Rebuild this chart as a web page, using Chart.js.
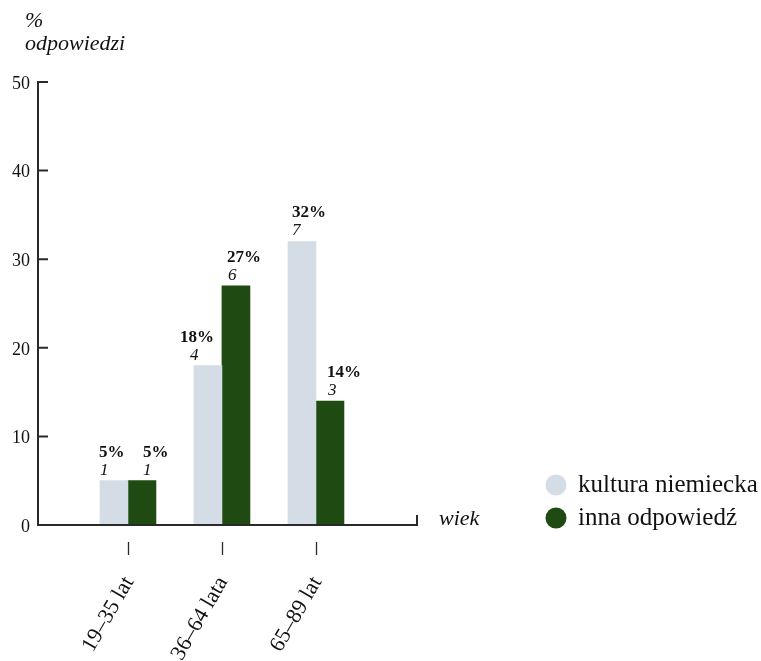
<!DOCTYPE html>
<html lang="pl">
<head>
<meta charset="utf-8">
<title>Wiek a odpowiedź</title>
<script src="https://cdn.jsdelivr.net/npm/chart.js@4.4.1/dist/chart.umd.min.js"></script>
<style>
  html, body { margin: 0; padding: 0; background: #fff; }
  #wrap { width: 761px; height: 661px; }
</style>
</head>
<body>
<div id="wrap"><canvas id="wiekChart" width="761" height="661"></canvas></div>
<script>
// Dane wykresu
const kategorie = ['19–35 lat', '36–64 lata', '65–89 lat'];
const kulturaProcent = [5, 18, 32];
const innaProcent = [5, 27, 14];
const kulturaLiczba = [1, 4, 7];
const innaLiczba = [1, 6, 3];
const osY = [0, 10, 20, 30, 40, 50];
const serie = ['kultura niemiecka', 'inna odpowiedź'];

const KOLOR_JASNY = '#d4dde6';
const KOLOR_ZIELONY = '#1f4a12';
const KOLOR_OSI = '#2a2a2a';
const FONT = '"Liberation Serif", "DejaVu Serif", serif';

// przesunięcia etykiet nad słupkami (względem lewej krawędzi słupka)
const przesuniecieProc = [[-1, -14, 4], [15, 5, 11]];
const przesuniecieLicz = [[0, -4, 4], [15, 6, 12]];

// osie rysowane ręcznie: linia, kreski na osi Y do środka, zakończenie osi X
const osiePlugin = {
    id: 'osie',
    afterDatasetsDraw(chart) {
        const { ctx, chartArea, scales } = chart;
        const x = scales.x, y = scales.y;
        const lewo = chartArea.left, dol = y.getPixelForValue(0);
        ctx.save();
        ctx.strokeStyle = KOLOR_OSI;
        ctx.lineWidth = 2;
        ctx.beginPath();
        ctx.moveTo(lewo + 10, y.getPixelForValue(50));
        ctx.lineTo(lewo, y.getPixelForValue(50));
        ctx.lineTo(lewo, dol);
        ctx.lineTo(chartArea.right, dol);
        ctx.lineTo(chartArea.right, dol - 10);
        osY.forEach(v => {
            if (v === 0 || v === 50) return;
            const py = y.getPixelForValue(v);
            ctx.moveTo(lewo, py);
            ctx.lineTo(lewo + 10, py);
        });
        ctx.stroke();

        // kreski pod kategoriami
        ctx.lineWidth = 1.3;
        ctx.beginPath();
        kategorie.forEach((k, i) => {
            const px = Math.round(x.getPixelForValue(i + 1)) + 0.5;
            ctx.moveTo(px, dol + 17);
            ctx.lineTo(px, dol + 30);
        });
        ctx.stroke();

        // etykiety wartości
        const liczby = [kulturaLiczba, innaLiczba];
        const procenty = [kulturaProcent, innaProcent];
        ctx.fillStyle = '#111';
        ctx.textAlign = 'left';
        ctx.textBaseline = 'alphabetic';
        chart.data.datasets.forEach((ds, d) => {
            chart.getDatasetMeta(d).data.forEach((bar, i) => {
                const l = bar.x - bar.width / 2;
                ctx.font = 'bold 17px ' + FONT;
                ctx.fillText(procenty[d][i] + '%', l + przesuniecieProc[d][i], bar.y - 24);
                ctx.font = 'italic 17px ' + FONT;
                ctx.fillText(String(liczby[d][i]), l + przesuniecieLicz[d][i], bar.y - 6);
            });
        });

        // opisy osi
        ctx.font = 'italic 22px ' + FONT;
        ctx.fillText('%', 25, 27);
        ctx.fillText('odpowiedzi', 25, 50);
        ctx.fillText('wiek', chartArea.right + 22, dol);

        // legenda
        const kolory = [KOLOR_JASNY, KOLOR_ZIELONY];
        ctx.font = '25px ' + FONT;
        serie.forEach((s, i) => {
            const cy = 485 + i * 33;
            ctx.fillStyle = kolory[i];
            ctx.beginPath();
            ctx.arc(556, cy, 10.5, 0, Math.PI * 2);
            ctx.fill();
            ctx.fillStyle = '#111';
            ctx.fillText(s, 578, cy + 7);
        });
        ctx.restore();
    }
};

new Chart(document.getElementById('wiekChart').getContext('2d'), {
    type: 'bar',
    data: {
        datasets: [
            {
                label: serie[0],
                data: kulturaProcent.map((v, i) => ({ x: i + 1, y: v })),
                backgroundColor: KOLOR_JASNY,
                barThickness: 28
            },
            {
                label: serie[1],
                data: innaProcent.map((v, i) => ({ x: i + 1, y: v })),
                backgroundColor: KOLOR_ZIELONY,
                barThickness: 28
            }
        ]
    },
    options: {
        responsive: false,
        animation: false,
        devicePixelRatio: 1,
        layout: { padding: { top: 82, right: 344, left: 0, bottom: 0 } },
        plugins: {
            legend: { display: false },
            tooltip: { enabled: false }
        },
        scales: {
            x: {
                type: 'linear',
                offset: false,
                min: 0.043,
                max: 4.075,
                grid: { display: false, drawTicks: false },
                border: { display: false },
                afterBuildTicks: (scale) => {
                    scale.ticks = kategorie.map((k, i) => ({ value: i + 1 }));
                },
                afterFit: (scale) => { scale.height = 136; },
                ticks: {
                    autoSkip: false,
                    minRotation: 60,
                    maxRotation: 60,
                    padding: 47,
                    labelOffset: 1,
                    color: '#111',
                    font: { family: FONT, size: 22 },
                    callback: (v) => kategorie[v - 1] || ''
                }
            },
            y: {
                min: 0,
                max: 50,
                grid: { display: false, drawTicks: false },
                border: { display: false },
                afterFit: (scale) => { scale.width = 38; },
                afterBuildTicks: (scale) => {
                    scale.ticks = osY.map(v => ({ value: v }));
                },
                ticks: {
                    padding: 8,
                    labelOffset: 2,
                    color: '#111',
                    font: { family: FONT, size: 18 }
                }
            }
        }
    },
    plugins: [osiePlugin]
});
</script>
</body>
</html>
